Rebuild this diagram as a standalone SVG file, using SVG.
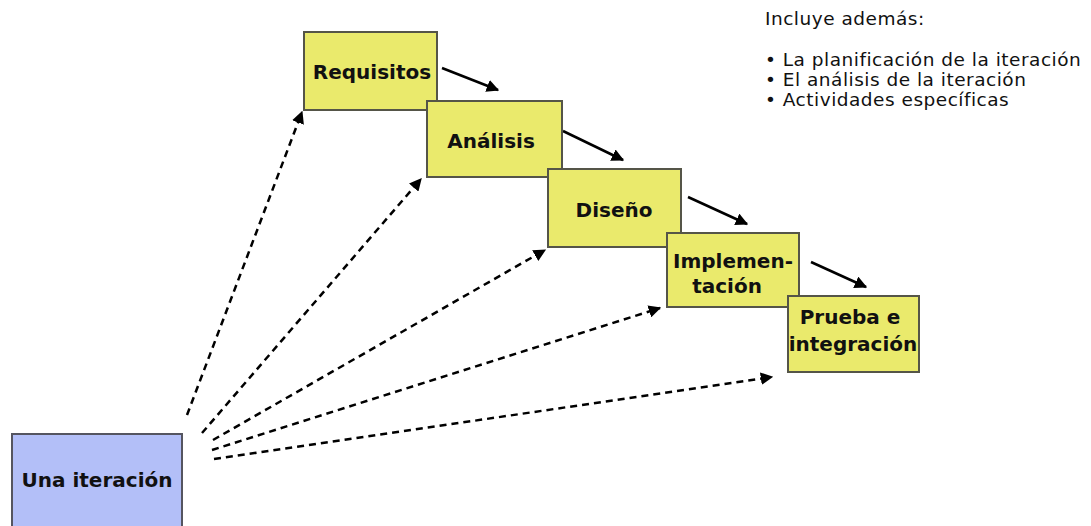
<svg xmlns="http://www.w3.org/2000/svg" width="1091" height="526" viewBox="0 0 1091 526">
<style>
.box{fill:#eaea6c;stroke:#555548;stroke-width:2}
.blue{fill:#b3bff8;stroke:#555560;stroke-width:2}
.lbl{font-family:"DejaVu Sans",Verdana,sans-serif;font-weight:bold;font-size:20px;fill:#111;text-anchor:middle}
.note{font-family:"DejaVu Sans",Verdana,sans-serif;font-size:18.5px;letter-spacing:0.5px;fill:#111}
.solid{stroke:#000;stroke-width:2.5;fill:none}
.dash{stroke:#000;stroke-width:2.5;fill:none;stroke-dasharray:7 5}
</style>
<defs>
<marker id="ah" viewBox="0 0 10 10" refX="9" refY="5" markerWidth="5" markerHeight="5" orient="auto" markerUnits="strokeWidth">
<path d="M0,0 L10,5 L0,10 z" fill="#000"/>
</marker>
</defs>
<rect width="1091" height="526" fill="#fff"/>
<g id="connectors">
<line class="solid" x1="442" y1="68" x2="498" y2="90" marker-end="url(#ah)"/>
<line class="solid" x1="563" y1="131" x2="623" y2="160" marker-end="url(#ah)"/>
<line class="solid" x1="688" y1="197" x2="747" y2="224" marker-end="url(#ah)"/>
<line class="solid" x1="811" y1="262" x2="866" y2="287" marker-end="url(#ah)"/>
<line class="dash" x1="187" y1="415" x2="302" y2="112" marker-end="url(#ah)"/>
<line class="dash" x1="202" y1="433" x2="421" y2="179" marker-end="url(#ah)"/>
<line class="dash" x1="213" y1="440" x2="545" y2="250" marker-end="url(#ah)"/>
<line class="dash" x1="212" y1="450" x2="660" y2="308" marker-end="url(#ah)"/>
<line class="dash" x1="214" y1="459" x2="772" y2="377" marker-end="url(#ah)"/>
</g>
<g id="requisitos">
<rect class="box" x="304" y="32" width="133" height="78"/>
<text class="lbl" x="372" y="79">Requisitos</text>
</g>
<g id="analisis">
<rect class="box" x="427" y="101" width="135" height="76"/>
<text class="lbl" x="491" y="148">Análisis</text>
</g>
<g id="diseno">
<rect class="box" x="548" y="169" width="133" height="78"/>
<text class="lbl" x="614" y="217">Diseño</text>
</g>
<g id="implementacion">
<rect class="box" x="667" y="233" width="132" height="74"/>
<text class="lbl" x="733" y="268">Implemen-</text>
<text class="lbl" x="727" y="293">tación</text>
</g>
<g id="prueba">
<rect class="box" x="788" y="296" width="131" height="76"/>
<text class="lbl" x="850" y="324">Prueba e</text>
<text class="lbl" x="853" y="351">integración</text>
</g>
<g id="una-iteracion">
<rect class="blue" x="12" y="434" width="170" height="100"/>
<text class="lbl" x="97" y="487">Una iteración</text>
</g>
<g id="nota">
<text class="note" x="765" y="25">Incluye además:</text>
<text class="note" x="765" y="66">• La planificación de la iteración</text>
<text class="note" x="765" y="86">• El análisis de la iteración</text>
<text class="note" x="765" y="106">• Actividades específicas</text>
</g>
</svg>
